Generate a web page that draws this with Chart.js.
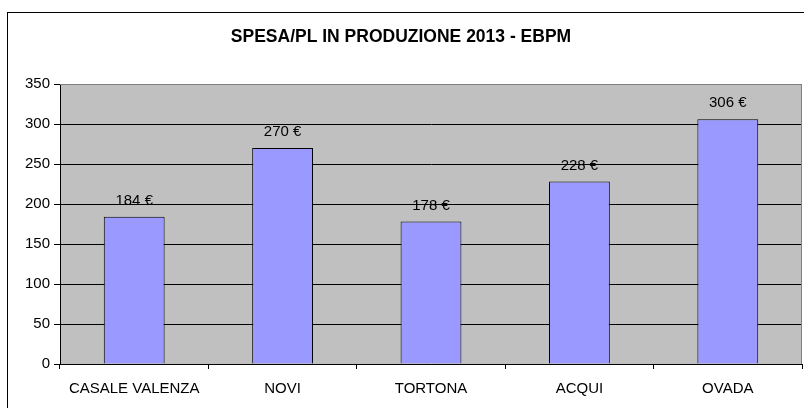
<!DOCTYPE html>
<html>
<head>
<meta charset="utf-8">
<script src="https://cdn.jsdelivr.net/npm/chart.js@4/dist/chart.umd.min.js"></script>
<style>
  html, body { margin: 0; padding: 0; background: #fff; }
  #wrap { width: 804px; height: 408px; }
</style>
</head>
<body>
<div id="wrap"><canvas id="chart" width="804" height="408"></canvas></div>
<script>
// data
var categories = ['CASALE VALENZA', 'NOVI', 'TORTONA', 'ACQUI', 'OVADA'];
var spesa = [184, 270, 178, 228, 306];
var yTicks = [0, 50, 100, 150, 200, 250, 300, 350];

var FONT = "'Liberation Sans', Arial, sans-serif";

// grey plot area, frame round the whole chart
var frame = {
  id: 'frame',
  beforeDraw: function (chart) {
    var ctx = chart.ctx, a = chart.chartArea;
    ctx.save();
    ctx.fillStyle = '#c0c0c0';
    ctx.fillRect(a.left, a.top, a.right - a.left, a.bottom - a.top);
    ctx.restore();
  },
  afterDraw: function (chart) {
    var ctx = chart.ctx, a = chart.chartArea;
    ctx.save();
    ctx.strokeStyle = '#808080';
    ctx.lineWidth = 1;
    ctx.beginPath();
    ctx.moveTo(a.left, a.top + 0.5);
    ctx.lineTo(a.right - 0.5, a.top + 0.5);
    ctx.lineTo(a.right - 0.5, a.bottom);
    ctx.stroke();
    ctx.strokeStyle = '#000';
    ctx.strokeRect(7.5, 12.5, 900, 500);
    ctx.restore();
  }
};

// "184 €" labels over the bars
var valueLabels = {
  id: 'valueLabels',
  afterDatasetsDraw: function (chart) {
    var ctx = chart.ctx;
    var meta = chart.getDatasetMeta(0);
    ctx.save();
    ctx.font = '15px ' + FONT;
    ctx.fillStyle = '#000';
    ctx.textAlign = 'center';
    ctx.textBaseline = 'middle';
    meta.data.forEach(function (bar, i) {
      ctx.fillText(spesa[i] + ' €', bar.x, bar.y - 16);
    });
    ctx.restore();
  }
};

new Chart(document.getElementById('chart'), {
  type: 'bar',
  data: {
    labels: categories,
    datasets: [{
      data: spesa,
      backgroundColor: '#9999ff',
      borderColor: '#000',
      borderWidth: 1,
      barPercentage: 0.41,
      categoryPercentage: 1
    }]
  },
  options: {
    responsive: false,
    animation: false,
    layout: { padding: { left: 0, right: 2, top: 0, bottom: 0 } },
    plugins: {
      legend: { display: false },
      tooltip: { enabled: false },
      title: {
        display: true,
        text: 'SPESA/PL IN PRODUZIONE 2013 - EBPM',
        color: '#000',
        font: { family: FONT, size: 17.5, weight: 'bold' },
        padding: { top: 27, bottom: 36 }
      }
    },
    scales: {
      x: {
        grid: {
          offset: true,
          drawOnChartArea: false,
          color: '#000',
          tickLength: 5
        },
        border: { color: '#000' },
        ticks: {
          color: '#000',
          font: { family: FONT, size: 15 },
          padding: 11,
          maxRotation: 0,
          autoSkip: false
        },
        afterFit: function (scale) { scale.height = 44; }
      },
      y: {
        min: 0,
        max: 350,
        afterBuildTicks: function (scale) {
          scale.ticks = yTicks.map(function (v) { return { value: v }; });
        },
        grid: {
          color: function (c) { return c.tick && c.tick.value === 350 ? '#808080' : '#000'; },
          tickLength: 6,
          tickColor: '#000'
        },
        border: { color: '#000' },
        ticks: {
          color: '#000',
          font: { family: FONT, size: 15 },
          padding: 4
        },
        afterFit: function (scale) { scale.width = 60; }
      }
    }
  },
  plugins: [frame, valueLabels]
});
</script>
</body>
</html>
